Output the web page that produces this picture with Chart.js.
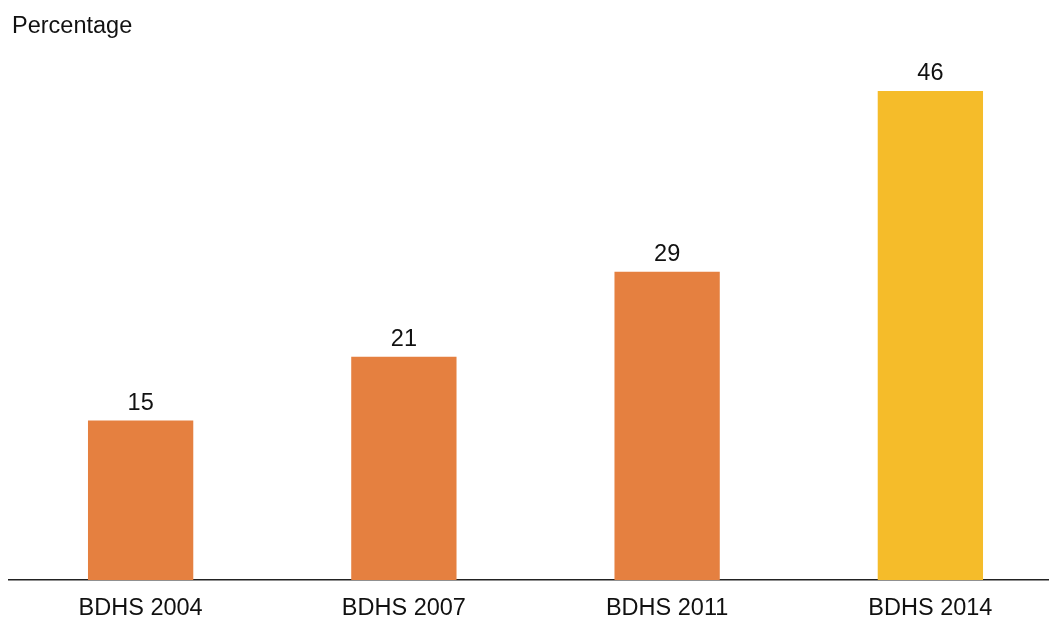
<!DOCTYPE html>
<html>
<head>
<meta charset="utf-8">
<script src="https://cdn.jsdelivr.net/npm/chart.js@4/dist/chart.umd.min.js"></script>
<style>
  html, body { margin: 0; padding: 0; background: #fff; overflow: hidden; }
  #wrap { position: relative; width: 1062px; height: 622px; }
</style>
</head>
<body>
<div id="wrap"><canvas id="chart"></canvas></div>
<script>
const surveys = ['BDHS 2004', 'BDHS 2007', 'BDHS 2011', 'BDHS 2014'];
const percentages = [15, 21, 29, 46];
const barColors = ['#E58040', '#E58040', '#E58040', '#F5BC2A'];
const yAxisLabel = 'Percentage';

const FONT = '"Liberation Sans", Arial, sans-serif';

// value labels above each bar + the "Percentage" caption
const labelPlugin = {
    id: 'labels',
    afterDatasetsDraw(chart) {
        const ctx = chart.ctx;
        ctx.save();
        ctx.fillStyle = '#111';
        ctx.font = '23.5px ' + FONT;
        ctx.textAlign = 'center';
        ctx.textBaseline = 'alphabetic';
        chart.getDatasetMeta(0).data.forEach((bar, i) => {
            ctx.fillText(String(percentages[i]), bar.x, bar.y - 11);
        });
        ctx.textAlign = 'left';
        ctx.fillText(yAxisLabel, 12, 33);
        ctx.restore();
    }
};

new Chart(document.getElementById('chart'), {
    type: 'bar',
    data: {
        labels: surveys,
        datasets: [{
            data: percentages,
            backgroundColor: barColors,
            borderWidth: 0,
            barPercentage: 0.4,
            categoryPercentage: 1
        }]
    },
    options: {
        responsive: true,
        maintainAspectRatio: false,
        animation: false,
        layout: { padding: { left: 9, right: 0, top: 0, bottom: 0 } },
        plugins: {
            legend: { display: false },
            tooltip: { enabled: false }
        },
        scales: {
            x: {
                grid: { display: false, drawTicks: false },
                border: { display: true, color: '#222', width: 1.5 },
                ticks: {
                    color: '#111',
                    font: { family: FONT, size: 23.5 },
                    padding: 14
                },
                afterFit: scale => { scale.height = 42; }
            },
            y: {
                display: false,
                min: 0,
                max: 54.55
            }
        }
    },
    plugins: [labelPlugin]
});
</script>
</body>
</html>
